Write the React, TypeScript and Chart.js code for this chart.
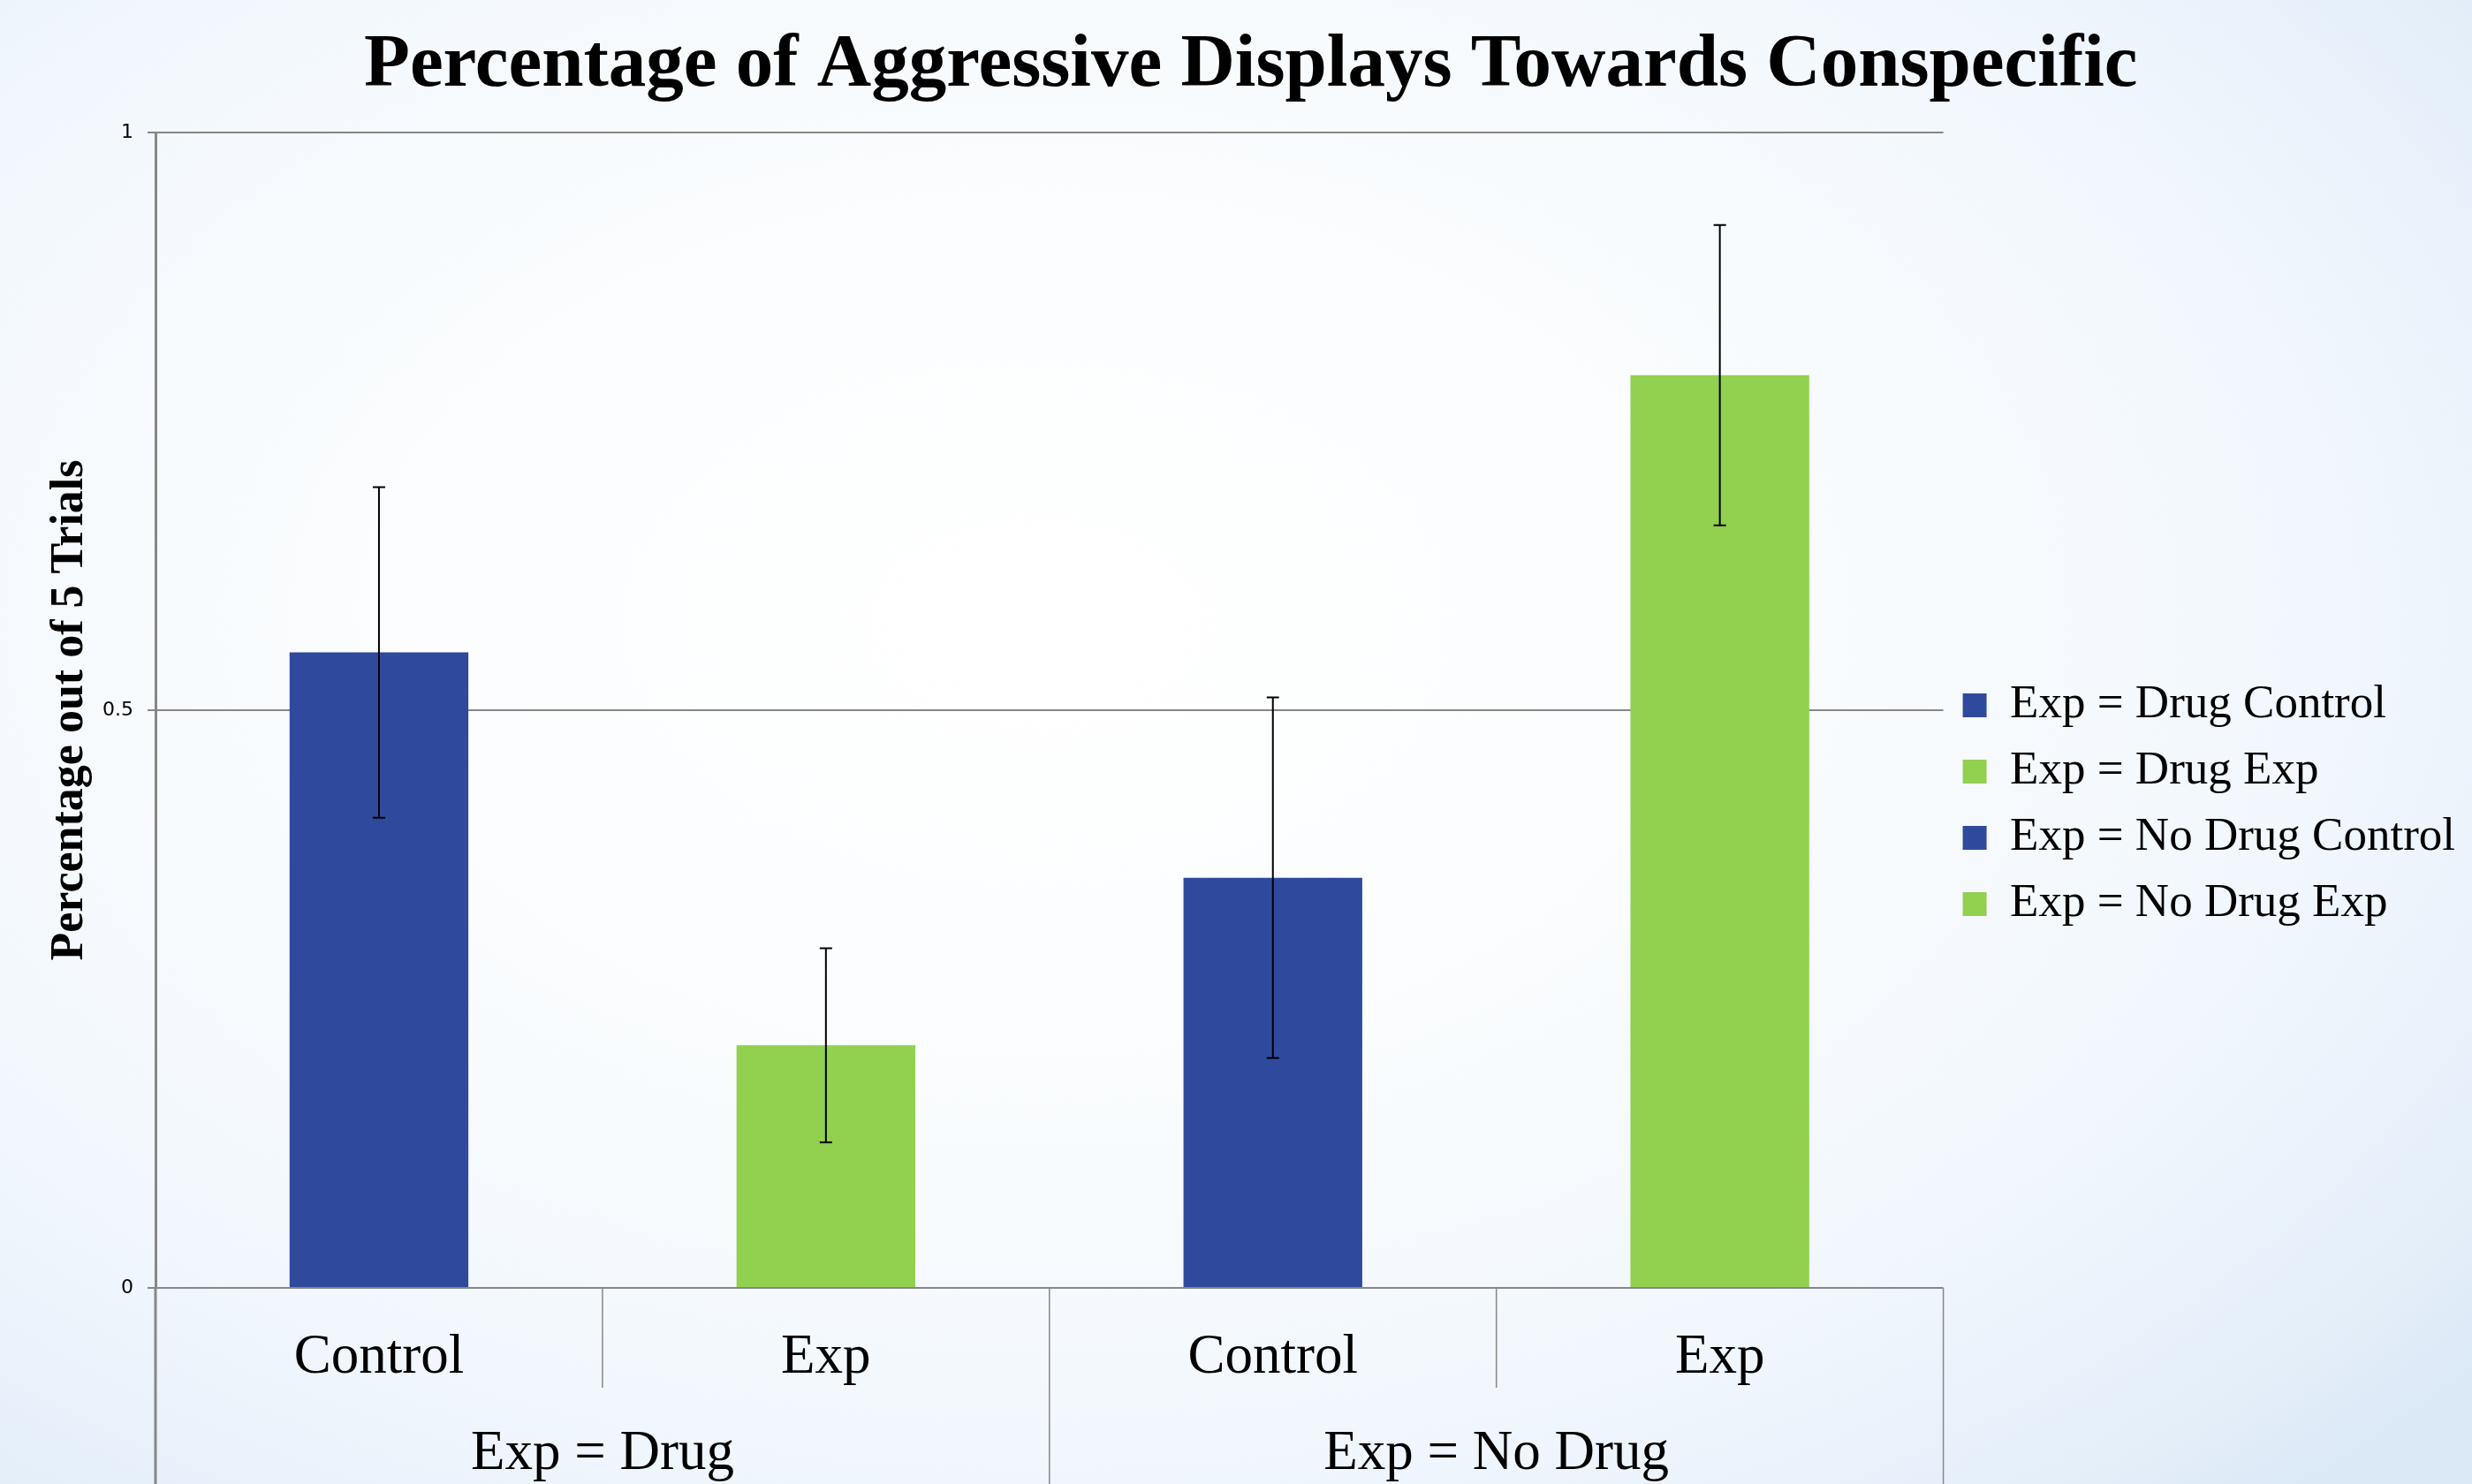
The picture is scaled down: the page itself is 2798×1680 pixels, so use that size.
import React, { useEffect, useRef } from "react";
import { Chart, registerables } from "chart.js";

Chart.register(...registerables);

// ---- data ----
const categories = ["Control", "Exp", "Control", "Exp"];
const groups = ["Exp = Drug", "Exp = No Drug"];
const seriesNames = [
  "Exp = Drug Control",
  "Exp = Drug Exp",
  "Exp = No Drug Control",
  "Exp = No Drug Exp",
];
const values = [0.55, 0.21, 0.355, 0.79];
const errors = [0.143, 0.084, 0.156, 0.13];
const seriesColors = ["#2f4a9d", "#92d050", "#2f4a9d", "#92d050"];
const yTicks = [0, 0.5, 1];
const titleText = "Percentage of Aggressive Displays Towards Conspecific";
const yTitleText = "Percentage out of 5 Trials";

// ---- style ----
const W = 2798;
const H = 1680;
const SERIF = "'Liberation Serif', 'Times New Roman', Times, serif";
const AXIS = "#878787";

const errorBars = {
  id: "errorBars",
  afterDatasetsDraw(chart: any) {
    const ctx = chart.ctx;
    const y = chart.scales.y;
    ctx.save();
    ctx.strokeStyle = "#000";
    ctx.lineWidth = 2;
    values.forEach((v, i) => {
      const el = chart.getDatasetMeta(i).data[i];
      if (!el) return;
      const x = el.x;
      const yt = y.getPixelForValue(v + errors[i]);
      const yb = y.getPixelForValue(v - errors[i]);
      ctx.beginPath();
      ctx.moveTo(x, yt);
      ctx.lineTo(x, yb);
      ctx.moveTo(x - 7, yt);
      ctx.lineTo(x + 7, yt);
      ctx.moveTo(x - 7, yb);
      ctx.lineTo(x + 7, yb);
      ctx.stroke();
    });
    ctx.restore();
  },
};

const dividers = {
  id: "dividers",
  afterDraw(chart: any) {
    const { ctx, chartArea, scales } = chart;
    const xs = scales.x;
    const bottom = chart.height;
    const line = (x1: number, y1: number, x2: number, y2: number) => {
      ctx.beginPath();
      ctx.moveTo(x1, y1);
      ctx.lineTo(x2, y2);
      ctx.stroke();
    };
    ctx.save();
    ctx.strokeStyle = AXIS;
    ctx.lineWidth = 3;
    line(chartArea.left, chartArea.bottom, chartArea.left, bottom);
    ctx.lineWidth = 1.5;
    const perGroup = categories.length / groups.length;
    for (let j = 1; j < categories.length; j++) {
      const xb = (xs.getPixelForValue(j - 1) + xs.getPixelForValue(j)) / 2;
      const isGroup = j % perGroup === 0;
      line(xb, chartArea.bottom, xb, isGroup ? bottom : chartArea.bottom + 113);
    }
    line(chartArea.right, chartArea.bottom, chartArea.right, bottom);
    ctx.restore();
  },
};

export default function App() {
  const ref = useRef<HTMLCanvasElement | null>(null);

  useEffect(() => {
    if (!ref.current) return;
    const chart = new Chart(ref.current, {
      type: "bar",
      data: {
        labels: categories,
        datasets: seriesNames.map((name, i) => ({
          label: name,
          data: categories.map((_, j) => (j === i ? values[i] : null)),
          backgroundColor: seriesColors[i],
          borderColor: seriesColors[i],
          borderWidth: 0,
          barPercentage: 0.4,
          categoryPercentage: 1,
          skipNull: true,
        })),
      },
      options: {
        responsive: false,
        animation: false,
        devicePixelRatio: 1,
        layout: { padding: { left: 0, right: 9, top: 0, bottom: 0 } },
        plugins: {
          tooltip: { enabled: false },
          title: {
            display: true,
            text: "  " + titleText,
            color: "#000",
            font: { family: SERIF, size: 85, weight: "bold" },
            padding: { top: 24, bottom: 24 },
          },
          legend: {
            display: true,
            position: "right",
            align: "center",
            title: {
              display: true,
              text: "",
              font: { size: 12 },
              padding: { top: 127.6, bottom: 0 },
            },
            labels: {
              color: "#000",
              font: { family: SERIF, size: 53 },
              boxWidth: 27,
              boxHeight: 27,
              padding: 22,
            },
          },
        },
        scales: {
          x: {
            type: "category",
            position: "bottom",
            weight: 0,
            grid: { display: false, drawTicks: false },
            border: { display: false },
            ticks: {
              color: "#000",
              font: { family: SERIF, size: 63 },
              padding: 42,
              autoSkip: false,
              maxRotation: 0,
              minRotation: 0,
            },
            afterFit: (s: any) => {
              s.height = 120;
            },
          },
          x2: {
            type: "category",
            position: "bottom",
            weight: 1,
            labels: groups,
            offset: true,
            grid: { display: false, drawTicks: false },
            border: { display: false },
            ticks: {
              color: "#000",
              font: { family: SERIF, size: 63 },
              padding: 30.5,
              autoSkip: false,
              maxRotation: 0,
              minRotation: 0,
            },
            afterFit: (s: any) => {
              s.height = 102;
            },
          },
          y: {
            type: "linear",
            position: "left",
            min: 0,
            max: 1,
            afterBuildTicks: (s: any) => {
              s.ticks = yTicks.map((v) => ({ value: v }));
            },
            grid: {
              color: AXIS,
              lineWidth: 2,
              drawTicks: true,
              tickLength: 9,
            },
            border: { display: true, color: AXIS, width: 3 },
            ticks: {
              color: "#000",
              font: { family: "'DejaVu Sans', sans-serif", size: 22 },
              padding: 16,
              callback: (v: any) => String(v),
            },
            title: {
              display: true,
              text: yTitleText,
              color: "#000",
              font: { family: SERIF, size: 52, weight: "bold" },
              padding: { top: 48, bottom: 0 },
            },
            afterFit: (s: any) => {
              s.width = 176;
            },
          },
        },
      },
      plugins: [errorBars, dividers],
    } as any);
    return () => chart.destroy();
  }, []);

  return (
    <div
      style={{
        position: "fixed",
        left: 0,
        top: 0,
        width: W,
        height: H,
        background:
          "radial-gradient(ellipse 75% 80% at 42% 42%, #ffffff 0%, #fbfdfe 35%, #f1f7fd 70%, #e4eef9 92%, #dbe8f6 100%)",
      }}
    >
      <canvas ref={ref} width={W} height={H} style={{ display: "block", width: W, height: H }} />
    </div>
  );
}
